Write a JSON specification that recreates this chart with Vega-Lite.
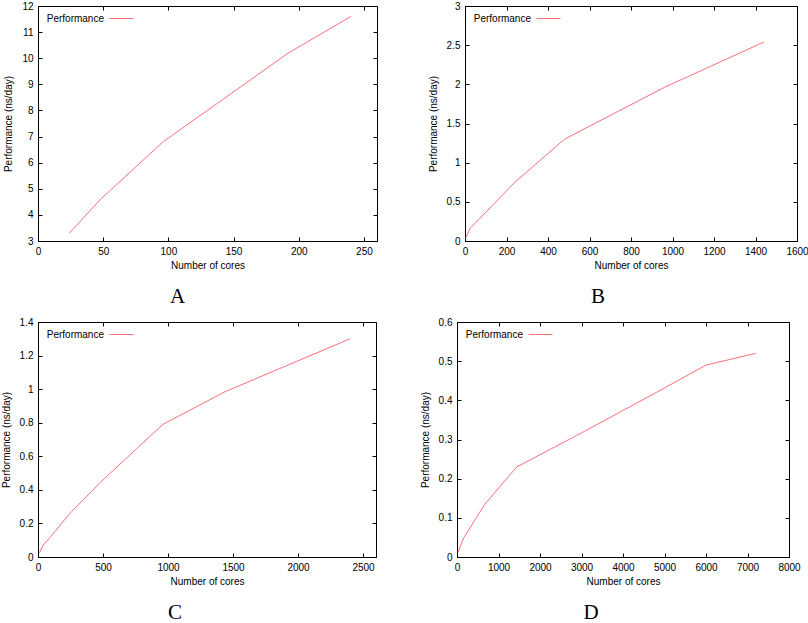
{
  "$schema": "https://vega.github.io/schema/vega-lite/v6.json",
  "padding": {"left": 0, "top": 0, "right": 0, "bottom": 0},
  "background": "white",
  "datasets": {
    "a": [
      {"cores": 24, "perf": 3.3},
      {"cores": 48, "perf": 4.6},
      {"cores": 96, "perf": 6.8},
      {"cores": 192, "perf": 10.2},
      {"cores": 240, "perf": 11.6}
    ],
    "b": [
      {"cores": 4, "perf": 0.04},
      {"cores": 24, "perf": 0.16},
      {"cores": 120, "perf": 0.42},
      {"cores": 240, "perf": 0.75},
      {"cores": 480, "perf": 1.3},
      {"cores": 960, "perf": 1.96},
      {"cores": 1440, "perf": 2.54}
    ],
    "c": [
      {"cores": 10, "perf": 0.025},
      {"cores": 40, "perf": 0.07},
      {"cores": 96, "perf": 0.12},
      {"cores": 240, "perf": 0.255},
      {"cores": 480, "perf": 0.445},
      {"cores": 960, "perf": 0.79},
      {"cores": 1440, "perf": 0.985},
      {"cores": 2400, "perf": 1.3}
    ],
    "d": [
      {"cores": 24, "perf": 0.012},
      {"cores": 168, "perf": 0.05},
      {"cores": 672, "perf": 0.135},
      {"cores": 1440, "perf": 0.23},
      {"cores": 2880, "perf": 0.31},
      {"cores": 4800, "perf": 0.42},
      {"cores": 6000, "perf": 0.49},
      {"cores": 7200, "perf": 0.52}
    ]
  },
  "vconcat": [
    {
      "hconcat": [
        {
          "width": 339, "height": 235,
          "title": {"text": "A", "orient": "bottom", "dx": -30},
          "data": {"name": "a"},
          "layer": [
            {
              "mark": {"type": "line", "strokeWidth": 1},
              "encoding": {
                "x": {"field": "cores", "type": "quantitative", "scale": {"domain": [0, 250]},
                      "axis": {"values": [0, 50, 100, 150, 200, 250], "title": "Number of cores"}},
                "y": {"field": "perf", "type": "quantitative", "scale": {"domain": [3, 12]},
                      "axis": {"values": [3, 4, 5, 6, 7, 8, 9, 10, 11, 12], "title": "Performance (ns/day)"}},
                "color": {"datum": "Performance", "type": "nominal", "scale": {"range": ["#f7707a"]}}
              }
            },
            {
              "mark": {"type": "line", "opacity": 0},
              "encoding": {
                "x": {"field": "cores", "type": "quantitative",
                      "axis": {"orient": "top", "values": [0, 50, 100, 150, 200, 250], "labels": false, "title": null, "domain": false}},
                "y": {"field": "perf", "type": "quantitative",
                      "axis": {"orient": "right", "values": [3, 4, 5, 6, 7, 8, 9, 10, 11, 12], "labels": false, "title": null, "domain": false}}
              }
            }
          ],
          "resolve": {"axis": {"x": "independent", "y": "independent"}}
        },
        {
          "width": 332, "height": 235,
          "title": {"text": "B", "orient": "bottom", "dx": -33},
          "data": {"name": "b"},
          "layer": [
            {
              "mark": {"type": "line", "strokeWidth": 1},
              "encoding": {
                "x": {"field": "cores", "type": "quantitative", "scale": {"domain": [0, 1600]},
                      "axis": {"values": [0, 200, 400, 600, 800, 1000, 1200, 1400, 1600], "title": "Number of cores"}},
                "y": {"field": "perf", "type": "quantitative", "scale": {"domain": [0, 3]},
                      "axis": {"values": [0, 0.5, 1, 1.5, 2, 2.5, 3], "title": "Performance (ns/day)"}},
                "color": {"datum": "Performance", "type": "nominal", "scale": {"range": ["#f7707a"]}}
              }
            },
            {
              "mark": {"type": "line", "opacity": 0},
              "encoding": {
                "x": {"field": "cores", "type": "quantitative",
                      "axis": {"orient": "top", "values": [0, 200, 400, 600, 800, 1000, 1200, 1400, 1600], "labels": false, "title": null, "domain": false}},
                "y": {"field": "perf", "type": "quantitative",
                      "axis": {"orient": "right", "values": [0, 0.5, 1, 1.5, 2, 2.5, 3], "labels": false, "title": null, "domain": false}}
              }
            }
          ],
          "resolve": {"axis": {"x": "independent", "y": "independent"}}
        }
      ],
      "spacing": 49,
      "resolve": {"scale": {"color": "independent"}, "legend": {"color": "independent"}}
    },
    {
      "hconcat": [
        {
          "width": 338, "height": 235,
          "title": {"text": "C", "orient": "bottom", "dx": -32},
          "data": {"name": "c"},
          "layer": [
            {
              "mark": {"type": "line", "strokeWidth": 1},
              "encoding": {
                "x": {"field": "cores", "type": "quantitative", "scale": {"domain": [0, 2500]},
                      "axis": {"values": [0, 500, 1000, 1500, 2000, 2500], "title": "Number of cores"}},
                "y": {"field": "perf", "type": "quantitative", "scale": {"domain": [0, 1.4]},
                      "axis": {"values": [0, 0.2, 0.4, 0.6, 0.8, 1, 1.2, 1.4], "title": "Performance (ns/day)"}},
                "color": {"datum": "Performance", "type": "nominal", "scale": {"range": ["#f7707a"]}}
              }
            },
            {
              "mark": {"type": "line", "opacity": 0},
              "encoding": {
                "x": {"field": "cores", "type": "quantitative",
                      "axis": {"orient": "top", "values": [0, 500, 1000, 1500, 2000, 2500], "labels": false, "title": null, "domain": false}},
                "y": {"field": "perf", "type": "quantitative",
                      "axis": {"orient": "right", "values": [0, 0.2, 0.4, 0.6, 0.8, 1, 1.2, 1.4], "labels": false, "title": null, "domain": false}}
              }
            }
          ],
          "resolve": {"axis": {"x": "independent", "y": "independent"}}
        },
        {
          "width": 332, "height": 235,
          "title": {"text": "D", "orient": "bottom", "dx": -32},
          "data": {"name": "d"},
          "layer": [
            {
              "mark": {"type": "line", "strokeWidth": 1},
              "encoding": {
                "x": {"field": "cores", "type": "quantitative", "scale": {"domain": [0, 8000]},
                      "axis": {"values": [0, 1000, 2000, 3000, 4000, 5000, 6000, 7000, 8000], "title": "Number of cores"}},
                "y": {"field": "perf", "type": "quantitative", "scale": {"domain": [0, 0.6]},
                      "axis": {"values": [0, 0.1, 0.2, 0.3, 0.4, 0.5, 0.6], "title": "Performance (ns/day)"}},
                "color": {"datum": "Performance", "type": "nominal", "scale": {"range": ["#f7707a"]}}
              }
            },
            {
              "mark": {"type": "line", "opacity": 0},
              "encoding": {
                "x": {"field": "cores", "type": "quantitative",
                      "axis": {"orient": "top", "values": [0, 1000, 2000, 3000, 4000, 5000, 6000, 7000, 8000], "labels": false, "title": null, "domain": false}},
                "y": {"field": "perf", "type": "quantitative",
                      "axis": {"orient": "right", "values": [0, 0.1, 0.2, 0.3, 0.4, 0.5, 0.6], "labels": false, "title": null, "domain": false}}
              }
            }
          ],
          "resolve": {"axis": {"x": "independent", "y": "independent"}}
        }
      ],
      "spacing": 42,
      "resolve": {"scale": {"color": "independent"}, "legend": {"color": "independent"}}
    }
  ],
  "spacing": 8,
  "resolve": {"scale": {"color": "independent"}, "legend": {"color": "independent"}},
  "config": {
    "font": "Liberation Sans",
    "view": {"stroke": "#000", "strokeWidth": 1},
    "axis": {
      "grid": false,
      "domainColor": "#000",
      "tickColor": "#000",
      "tickSize": -4,
      "labelFont": "Liberation Sans",
      "labelFontSize": 10,
      "labelColor": "#000",
      "labelPadding": 9,
      "labelFlush": false,
      "labelOverlap": false,
      "format": "~f",
      "titleFont": "Liberation Sans",
      "titleFontSize": 10,
      "titleFontWeight": "normal",
      "titleColor": "#000"
    },
    "axisX": {"titlePadding": 4},
    "axisY": {"titlePadding": 8},
    "legend": {
      "orient": "none",
      "legendX": 71,
      "legendY": 0,
      "padding": 0,
      "title": null,
      "symbolType": "stroke",
      "symbolSize": 576,
      "symbolStrokeWidth": 1,
      "labelAlign": "right",
      "labelOffset": -30,
      "labelFont": "Liberation Sans",
      "labelFontSize": 10,
      "labelColor": "#000"
    },
    "title": {
      "font": "Liberation Serif",
      "fontSize": 21,
      "fontWeight": "normal",
      "color": "#000",
      "offset": 16
    }
  }
}
